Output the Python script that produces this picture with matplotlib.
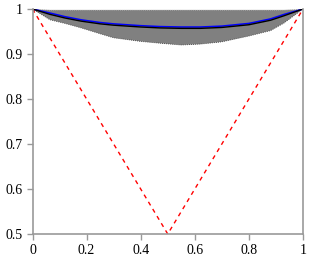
import matplotlib as mpl
mpl.use('Agg')
import matplotlib.pyplot as plt
import numpy as np

# curve samples
x = [0, 0.065, 0.12, 0.18, 0.25, 0.3, 0.4, 0.47, 0.55, 0.62, 0.7, 0.8, 0.88, 0.93, 1.0]
mean_curve = [1.0, 0.988, 0.980, 0.973, 0.967, 0.964, 0.960, 0.958, 0.957, 0.957, 0.959, 0.965, 0.975, 0.985, 1.0]
blue_curve = [1.0, 0.991, 0.983, 0.976, 0.970, 0.967, 0.963, 0.961, 0.960, 0.960, 0.962, 0.968, 0.978, 0.988, 1.0]
band_lo = [1.0, 0.976, 0.968, 0.958, 0.945, 0.936, 0.928, 0.924, 0.920, 0.922, 0.927, 0.940, 0.952, 0.969, 1.0]
band_hi = [1.0, 0.998, 0.998, 0.998, 0.998, 0.998, 0.998, 0.998, 0.998, 0.998, 0.998, 0.998, 0.998, 0.998, 1.0]

v_x = [0, 0.5, 1]
v_y = [1, 0.5, 1]

plt.rcParams['font.family'] = ['Liberation Serif', 'DejaVu Serif']
plt.rcParams['font.size'] = 10

fig = plt.figure(figsize=(3.11, 2.59), dpi=100)
ax = fig.add_axes([32.5 / 311, 25 / 259, 270.5 / 311, 225 / 259])

ax.fill_between(x, band_lo, band_hi, facecolor='#808080', edgecolor='none')
ax.plot(x, band_lo, color='#333333', ls=(0, (1, 1.5)), lw=0.6)
ax.plot(x, band_hi, color='#eeeeee', ls=(0, (1, 1.5)), lw=0.6)
ax.plot(x, blue_curve, color='blue', lw=1.1)
ax.plot(x, mean_curve, color='black', lw=1.0)
ax.plot(v_x, v_y, color='red', ls=(0, (3, 3)), lw=1.0)

ax.set_xlim(0, 1)
ax.set_ylim(0.5, 1)
ax.set_xticks([0, 0.2, 0.4, 0.6, 0.8, 1])
ax.set_xticklabels(['0', '0.2', '0.4', '0.6', '0.8', '1'])
ax.set_yticks([0.5, 0.6, 0.7, 0.8, 0.9, 1])
ax.set_yticklabels(['0.5', '0.6', '0.7', '0.8', '0.9', '1'])

for s in ['left', 'bottom', 'right']:
    ax.spines[s].set_color('#999999')
    ax.spines[s].set_linewidth(1.2)
ax.spines['top'].set_visible(False)
ax.tick_params(color='#999999', length=4, width=1, pad=3)
ax.tick_params(axis='y', right=False)

plt.savefig('out.png', dpi=100)
